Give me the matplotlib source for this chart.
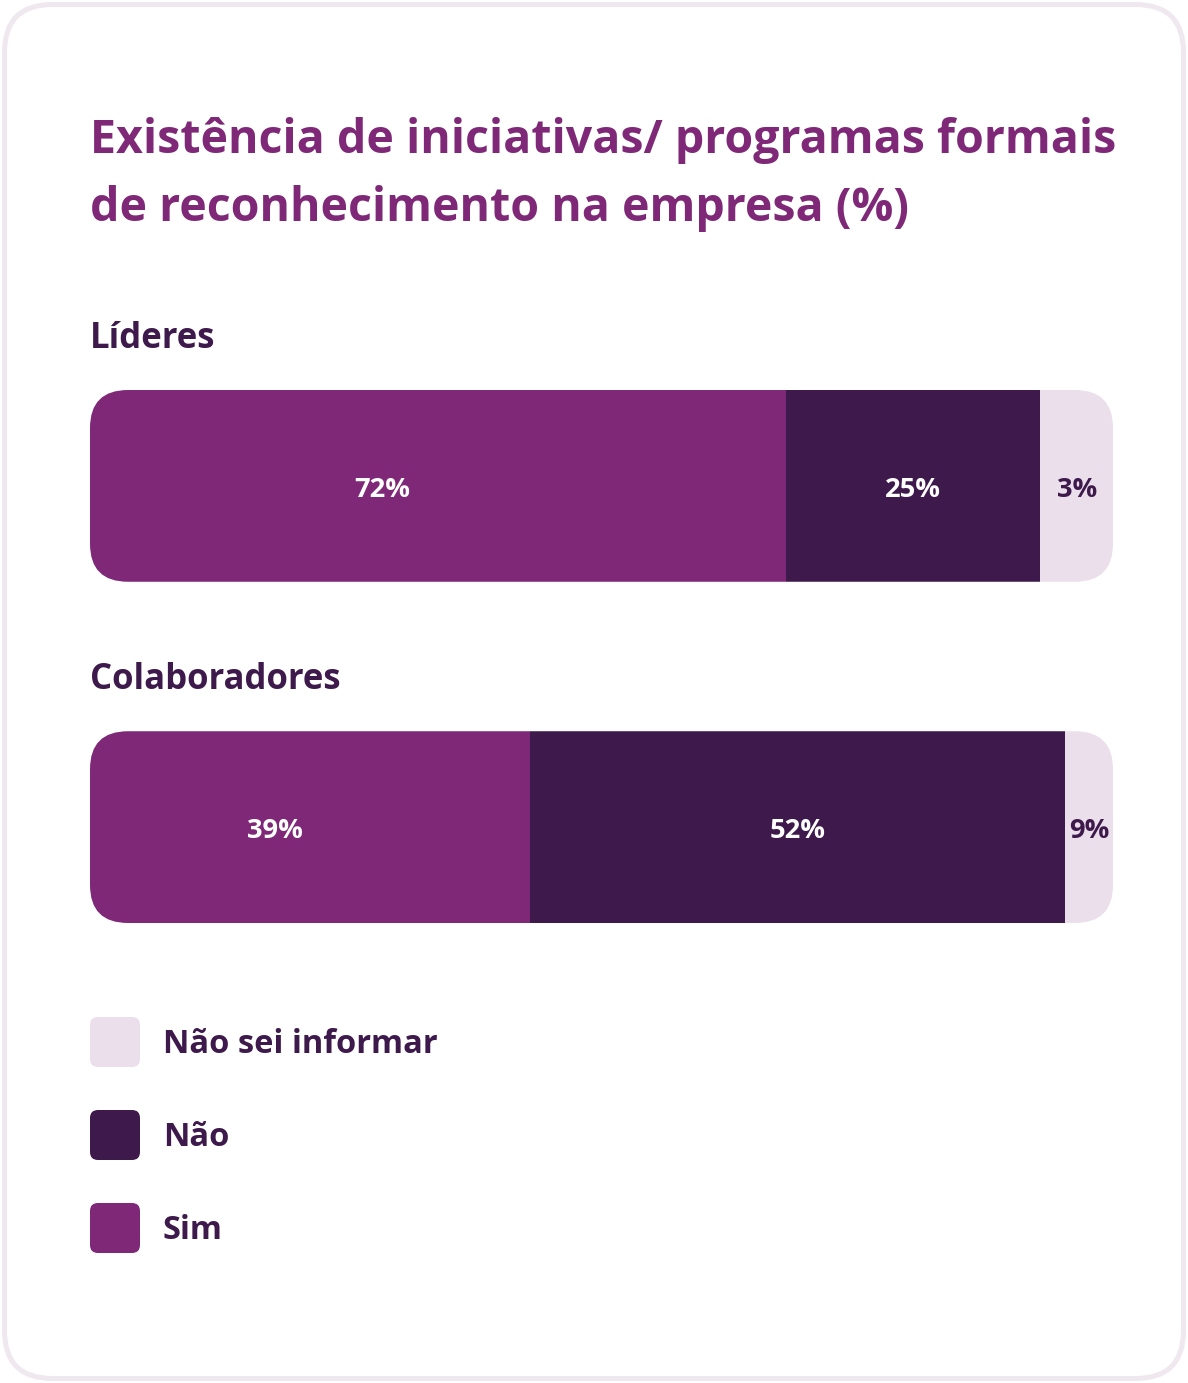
import matplotlib.pyplot as plt
from matplotlib.patches import FancyBboxPatch

# data
groups = ["Líderes", "Colaboradores"]
categories = ["Sim", "Não", "Não sei informar"]
lideres_pct = [72, 25, 3]
colaboradores_pct = [39, 52, 9]
# segment lengths as drawn (share of the bar)
lideres_len = [68.0, 24.9, 7.1]
colaboradores_len = [43.0, 52.3, 4.7]

title_lines = ["Existência de iniciativas/ programas formais",
               "de reconhecimento na empresa (%)"]

SIM = "#7f2878"
NAO = "#3e1a4c"
NSI = "#ecdfec"
DARK = "#3d1a4b"
BORDER = "#efe8ef"
colors = [SIM, NAO, NSI]
label_colors = ["white", "white", DARK]
label_anchor = [0.42, 0.5, 0.5]

FONT = "Open Sans"
W, H = 1188, 1383

fig = plt.figure(figsize=(W / 100, H / 100), dpi=100)
fig.patch.set_facecolor("white")

# background axes in pixel units for card, title and legend
bg = fig.add_axes([0, 0, 1, 1])
bg.set_xlim(0, W)
bg.set_ylim(H, 0)
bg.axis("off")

card = FancyBboxPatch((4.5, 4.5), W - 9, H - 9,
                      boxstyle="round,pad=0,rounding_size=48",
                      fc="white", ec=BORDER, lw=5 * 0.72)
bg.add_patch(card)

renderer = fig.canvas.get_renderer()


def fit_width(txt, target_px):
    w = txt.get_window_extent(renderer).width
    txt.set_fontsize(txt.get_fontsize() * target_px / w)
    return txt.get_fontsize()


t1 = bg.text(90, 153, title_lines[0], fontsize=31, fontweight="bold",
             color=SIM, family=FONT, va="baseline")
size = fit_width(t1, 1025)
bg.text(90, 221, title_lines[1], fontsize=size, fontweight="bold",
        color=SIM, family=FONT, va="baseline")

# bars
ax = fig.add_axes([90 / W, 1 - 923 / H, 1023 / W, (923 - 390) / H])
bar_h = 0.562
ax.set_xlim(0, 100)
ax.set_ylim(1 + bar_h / 2, -bar_h / 2)
ax.axis("off")

px_x = 1023 / 100
px_y = (923 - 390) / (1 + bar_h)
radius = 38

lengths = [lideres_len, colaboradores_len]
values = [lideres_pct, colaboradores_pct]

probe = ax.text(0, 0, "72%", fontsize=20, fontweight="bold", family=FONT)
label_size = fit_width(probe, 56)
probe.remove()
probe = ax.text(0, 0, groups[1], fontsize=21, fontweight="bold", family=FONT)
group_size = fit_width(probe, 251)
probe.remove()

for i, name in enumerate(groups):
    clip = FancyBboxPatch((0, i - bar_h / 2), 100, bar_h,
                          boxstyle=f"round,pad=0,rounding_size={radius / px_x}",
                          mutation_aspect=px_x / px_y,
                          transform=ax.transData, fc="none", ec="none")
    ax.add_patch(clip)
    left = 0
    for j, cat in enumerate(categories):
        seg = ax.barh(i, lengths[i][j], left=left, height=bar_h,
                      color=colors[j], linewidth=0)
        seg[0].set_clip_path(clip)
        ax.annotate(f"{values[i][j]}%",
                    (left + lengths[i][j] * label_anchor[j], i),
                    xytext=(0, -11), textcoords="offset pixels",
                    ha="center", va="baseline", color=label_colors[j],
                    fontsize=label_size, fontweight="bold", family=FONT)
        left += lengths[i][j]
    ax.annotate(name, (0, i - bar_h / 2), xytext=(0, 42),
                textcoords="offset pixels", ha="left", va="baseline",
                fontsize=group_size, fontweight="bold", color=DARK,
                family=FONT, annotation_clip=False)

# legend, reversed stack order
legend_size = None
for k, j in enumerate(reversed(range(len(categories)))):
    top = 1017 + k * 93
    bg.add_patch(FancyBboxPatch((90, top), 50, 50,
                                boxstyle="round,pad=0,rounding_size=8",
                                fc=colors[j], ec="none"))
    t = bg.text(163, top + 36, categories[j], fontsize=21, fontweight="bold",
                color=DARK, family=FONT, va="baseline")
    if legend_size is None:
        legend_size = fit_width(t, 275)
    else:
        t.set_fontsize(legend_size)

fig.savefig("out.png", dpi=100, facecolor="white")
